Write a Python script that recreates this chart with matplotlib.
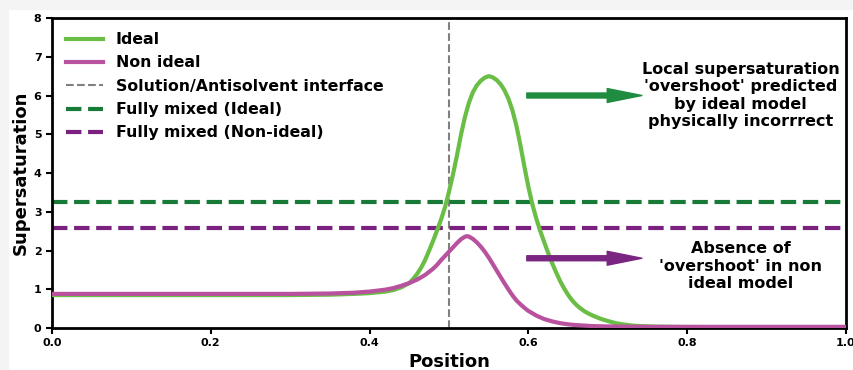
import matplotlib
matplotlib.use("Agg")
import matplotlib.pyplot as plt
from matplotlib.patches import Rectangle

# ---- data ----
ideal_x = [0.00, 0.10, 0.20, 0.30, 0.35, 0.38, 0.40, 0.42, 0.43, 0.44, 0.45, 0.455, 0.46,
           0.465, 0.47, 0.475, 0.48, 0.485, 0.49, 0.495, 0.50, 0.505, 0.51, 0.515, 0.52,
           0.525, 0.53, 0.535, 0.54, 0.545, 0.55, 0.555, 0.56, 0.565, 0.57, 0.575, 0.58,
           0.585, 0.59, 0.595, 0.60, 0.605, 0.61, 0.615, 0.62, 0.625, 0.63, 0.635, 0.64,
           0.645, 0.65, 0.655, 0.66, 0.665, 0.67, 0.675, 0.68, 0.69, 0.70, 0.71, 0.72,
           0.73, 0.74, 0.76, 0.80, 0.90, 1.00]
ideal_y = [0.85, 0.85, 0.85, 0.85, 0.86, 0.88, 0.90, 0.94, 0.98, 1.05, 1.16, 1.27, 1.40,
           1.56, 1.76, 2.00, 2.25, 2.52, 2.80, 3.12, 3.52, 3.96, 4.45, 4.98, 5.44,
           5.81, 6.08, 6.26, 6.38, 6.46, 6.50, 6.47, 6.40, 6.29, 6.13, 5.91, 5.61,
           5.21, 4.71, 4.16, 3.64, 3.19, 2.82, 2.50, 2.21, 1.93, 1.67, 1.43, 1.21,
           1.02, 0.855, 0.715, 0.605, 0.515, 0.44, 0.38, 0.33, 0.245, 0.18, 0.125, 0.09,
           0.065, 0.05, 0.035, 0.025, 0.02, 0.02]

nonideal_x = [0.00, 0.10, 0.20, 0.30, 0.35, 0.38, 0.40, 0.42, 0.43, 0.44, 0.45, 0.46, 0.47,
              0.48, 0.485, 0.49, 0.495, 0.50, 0.505, 0.51, 0.515, 0.52, 0.5225, 0.525, 0.53,
              0.535, 0.54, 0.545, 0.55, 0.555, 0.56, 0.565, 0.57, 0.575, 0.58, 0.585, 0.59,
              0.595, 0.60, 0.61, 0.62, 0.63, 0.64, 0.65, 0.66, 0.68, 0.70, 0.75, 0.85, 1.00]
nonideal_y = [0.88, 0.88, 0.88, 0.88, 0.89, 0.91, 0.94, 0.99, 1.03, 1.09, 1.16, 1.25, 1.37,
              1.53, 1.63, 1.75, 1.86, 1.97, 2.08, 2.19, 2.29, 2.355, 2.37, 2.36, 2.30,
              2.21, 2.10, 1.97, 1.82, 1.655, 1.485, 1.315, 1.15, 0.99, 0.84, 0.71, 0.61,
              0.52, 0.44, 0.32, 0.23, 0.17, 0.125, 0.095, 0.075, 0.05, 0.04, 0.03, 0.03, 0.03]

interface_x = 0.5
mixed_ideal = 3.25
mixed_nonideal = 2.58

labels = ["Ideal", "Non ideal", "Solution/Antisolvent interface",
          "Fully mixed (Ideal)", "Fully mixed (Non-ideal)"]
note_top = "Local supersaturation\n'overshoot' predicted\nby ideal model\nphysically incorrrect"
note_bottom = "Absence of\n'overshoot' in non\nideal model"

# ---- style ----
plt.rcParams["font.family"] = ["DejaVu Sans"]
plt.rcParams["font.weight"] = "bold"
plt.rcParams["axes.labelweight"] = "bold"

c_ideal = "#6abd45"
c_nonideal = "#b8529f"
c_mix_ideal = "#177a37"
c_mix_nonideal = "#7a2180"
c_arrow_g = "#1f8c3f"
c_arrow_p = "#7b2582"

fig = plt.figure(figsize=(8.54, 3.70), dpi=100, facecolor="#f4f4f4")
fig.add_artist(Rectangle((9 / 854, 0), 1, 360 / 370, transform=fig.transFigure,
                         facecolor="white", edgecolor="none", zorder=-1))
ax = fig.add_axes([52 / 854, 1 - 328 / 370, 794 / 854, 310 / 370])

ax.plot(ideal_x, ideal_y, color=c_ideal, lw=3, label=labels[0], zorder=3)
ax.plot(nonideal_x, nonideal_y, color=c_nonideal, lw=3, label=labels[1], zorder=3)
ax.axvline(interface_x, color="gray", lw=1.5, ls="--", label=labels[2], zorder=2)
ax.axhline(mixed_ideal, color=c_mix_ideal, lw=3, ls="--", label=labels[3], zorder=2)
ax.axhline(mixed_nonideal, color=c_mix_nonideal, lw=3, ls="--", label=labels[4], zorder=2)

ax.set_xlim(0, 1)
ax.set_ylim(0, 8)
ax.set_xlabel("Position", fontsize=13, fontweight="bold", labelpad=3)
ax.set_ylabel("Supersaturation", fontsize=13, fontweight="bold", labelpad=3)
ax.tick_params(labelsize=8, width=1.5, length=4)
for lab in ax.get_xticklabels() + ax.get_yticklabels():
    lab.set_fontweight("bold")
for sp in ax.spines.values():
    sp.set_linewidth(2.0)

leg = ax.legend(loc="upper left", frameon=False, fontsize=11.3, handlelength=2.35,
                borderaxespad=0.5, labelspacing=0.53)
for t in leg.get_texts():
    t.set_fontweight("bold")

ax.annotate("", xy=(0.743, 6.0), xytext=(0.598, 6.0),
            arrowprops=dict(width=3.6, headwidth=10, headlength=25, color=c_arrow_g, shrink=0))
ax.annotate("", xy=(0.743, 1.80), xytext=(0.598, 1.80),
            arrowprops=dict(width=3.6, headwidth=10, headlength=25, color=c_arrow_p, shrink=0))

ax.text(0.867, 6.0, note_top, ha="center", va="center", multialignment="center",
        fontsize=11.5, fontweight="bold", linespacing=1.2)
ax.text(0.867, 1.59, note_bottom, ha="center", va="center", multialignment="center",
        fontsize=11.5, fontweight="bold", linespacing=1.2)

fig.savefig("out.png", dpi=100, facecolor=fig.get_facecolor())
